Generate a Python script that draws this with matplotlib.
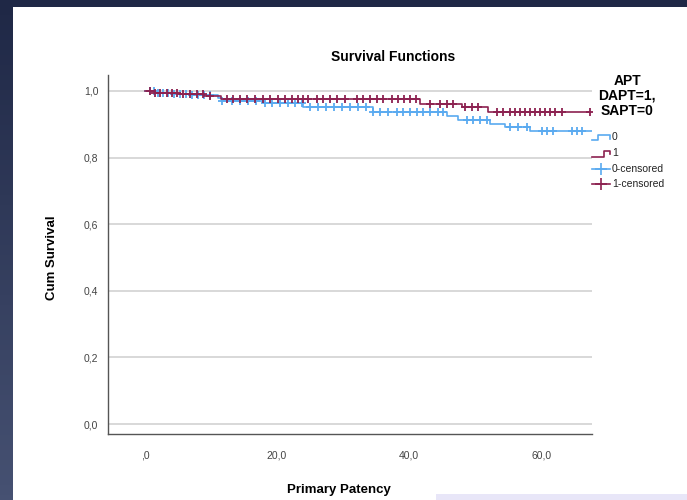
"""Kaplan-Meier style survival plot (SPSS look): primary patency by antiplatelet therapy."""
import numpy as np
import matplotlib
matplotlib.use("Agg")
import matplotlib.pyplot as plt
from matplotlib.lines import Line2D
from matplotlib.patches import Rectangle

# APT = 0 : step times and survival after each step
apt0_times = [0, 1.5, 4.0, 7.0, 11.0, 11.6, 18.0, 24.0, 34.5, 45.8, 47.4, 52.3, 54.5, 58.3, 67.7]
apt0_surv = [1.0, 0.995, 0.990, 0.987, 0.978, 0.970, 0.963, 0.952, 0.937, 0.925, 0.913, 0.901, 0.892, 0.880, 0.880]
apt0_censored = [0.8, 1.4, 2.0, 2.7, 3.5, 4.4, 5.3, 6.2, 7.1, 8.0, 8.9, 9.8, 11.7, 13.2, 14.4,
                 15.6, 16.8, 18.2, 19.2, 20.5, 21.7, 22.7, 23.8, 25.0, 26.2, 27.4, 28.6, 29.8,
                 31.1, 32.3, 33.5, 34.5, 35.6, 36.8, 38.2, 39.1, 40.2, 41.2, 42.1, 43.2, 44.4,
                 45.2, 48.8, 49.7, 50.8, 51.8, 55.3, 56.5, 57.9, 60.2, 60.9, 61.8, 64.7, 65.5, 66.2]

# APT = 1
apt1_times = [0, 1.5, 5.0, 9.0, 11.5, 41.7, 48.0, 52.0, 67.4]
apt1_surv = [1.0, 0.995, 0.990, 0.985, 0.975, 0.961, 0.952, 0.937, 0.937]
apt1_censored = [0.8, 1.5, 2.3, 3.3, 4.1, 4.8, 5.8, 6.8, 7.9, 8.8, 9.8, 12.4, 13.3, 14.4, 15.5,
                 16.7, 17.9, 19.0, 20.2, 21.2, 22.3, 23.2, 23.9, 24.7, 26.1, 27.0, 28.0, 29.1,
                 30.3, 32.1, 33.0, 34.1, 35.2, 36.1, 37.4, 38.3, 39.2, 40.2, 41.1, 43.2, 44.7,
                 45.8, 46.7, 48.5, 49.5, 50.5, 53.3, 54.2, 55.3, 56.1, 56.8, 57.6, 58.3, 59.1,
                 59.8, 60.6, 61.4, 62.1, 63.2, 67.4]

x_ticks = [0, 20, 40, 60]
x_tick_labels = [",0", "20,0", "40,0", "60,0"]
y_ticks = [0.0, 0.2, 0.4, 0.6, 0.8, 1.0]
y_tick_labels = ["0,0", "0,2", "0,4", "0,6", "0,8", "1,0"]

BLUE = "#5aaaf0"
MAROON = "#8c2150"
NAVY = "#1f2846"
FONT = "Liberation Sans"

W, H = 687, 500


def fx(px):
    return px / W


def fy(py):
    return 1 - py / H


def step_value(times, surv, t):
    idx = np.searchsorted(times, t, side="right") - 1
    return np.asarray(surv)[idx]


def main():
    plt.rcParams["font.family"] = [FONT, "DejaVu Sans"]
    fig = plt.figure(figsize=(W / 100, H / 100), dpi=100, facecolor="white")

    # background frame: navy top strip, gradient left strip, lavender bar bottom right
    bg = fig.add_axes([0, 0, 1, 1], zorder=-10)
    bg.set_xlim(0, W)
    bg.set_ylim(H, 0)
    bg.axis("off")
    grad = np.linspace(0, 1, 100).reshape(-1, 1)
    cmap = matplotlib.colors.LinearSegmentedColormap.from_list("edge", [NAVY, "#465172"])
    bg.imshow(grad, cmap=cmap, extent=(0, 13, H, 0), aspect="auto")
    bg.add_patch(Rectangle((0, 0), W, 7, color=NAVY, lw=0))
    bg.add_patch(Rectangle((436, 494), W - 436, 6, color="#e8e6f8", lw=0))

    ax = fig.add_axes([fx(108), fy(434), fx(592) - fx(108), fy(75) - fy(434)])
    ax.set_xlim(-5.6, 67.7)
    ax.set_ylim(-0.03, 1.048)

    for v in y_ticks:
        ax.axhline(v, color="#d6d6d6", lw=1.3, zorder=0)

    ax.step(apt0_times, apt0_surv, where="post", color=BLUE, lw=1.2, zorder=3)
    ax.plot(apt0_censored, step_value(apt0_times, apt0_surv, apt0_censored), ls="none",
            marker="+", ms=6, mew=1.3, color=BLUE, zorder=3)
    ax.step(apt1_times, apt1_surv, where="post", color=MAROON, lw=1.2, zorder=4)
    ax.plot(apt1_censored, step_value(apt1_times, apt1_surv, apt1_censored), ls="none",
            marker="+", ms=6, mew=1.3, color=MAROON, zorder=4)

    ax.set_xticks(x_ticks)
    ax.set_xticklabels(x_tick_labels)
    ax.set_yticks(y_ticks)
    ax.set_yticklabels(y_tick_labels)
    ax.tick_params(axis="both", length=0, labelsize=7.5, colors="#444444")
    ax.tick_params(axis="x", pad=12)
    ax.tick_params(axis="y", pad=7)
    for side in ("top", "right"):
        ax.spines[side].set_visible(False)
    for side in ("left", "bottom"):
        ax.spines[side].set_color("#555555")
        ax.spines[side].set_linewidth(1.0)

    fig.text(fx(393), fy(57), "Survival Functions", ha="center", va="center",
             fontsize=10, fontweight="bold")
    fig.text(fx(339), fy(490), "Primary Patency", ha="center", va="center",
             fontsize=9.5, fontweight="bold")
    fig.text(fx(52), fy(258), "Cum Survival", ha="center", va="center", rotation=90,
             fontsize=9.5, fontweight="bold")

    # legend, drawn by hand to get the SPSS step icons
    fig.text(fx(627), fy(96), "APT\nDAPT=1,\nSAPT=0", ha="center", va="center",
             fontsize=10, fontweight="bold", linespacing=1.05)
    icons = [
        ([592, 598, 598, 610, 610], [140, 140, 135, 135, 139], BLUE, None, "0", 137),
        ([592, 604, 604, 610, 610], [157, 157, 151, 151, 154], MAROON, None, "1", 153),
        ([592, 610], [169, 169], BLUE, "+", "0-censored", 169),
        ([592, 610], [184, 184], MAROON, "+", "1-censored", 184),
    ]
    for xs, ys, color, marker, label, ty in icons:
        line = Line2D([fx(x) for x in xs], [fy(y) for y in ys], color=color, lw=1.2,
                      transform=fig.transFigure)
        fig.add_artist(line)
        if marker:
            fig.add_artist(Line2D([fx(601)], [fy(ys[0])], color=color, marker=marker,
                                  ms=9, mew=1.2, ls="none", transform=fig.transFigure))
        fig.text(fx(612), fy(ty), label, ha="left", va="center",
                 fontsize=7.5, color="#222222")

    fig.savefig("out.png", dpi=100, facecolor="white")


if __name__ == "__main__":
    main()
